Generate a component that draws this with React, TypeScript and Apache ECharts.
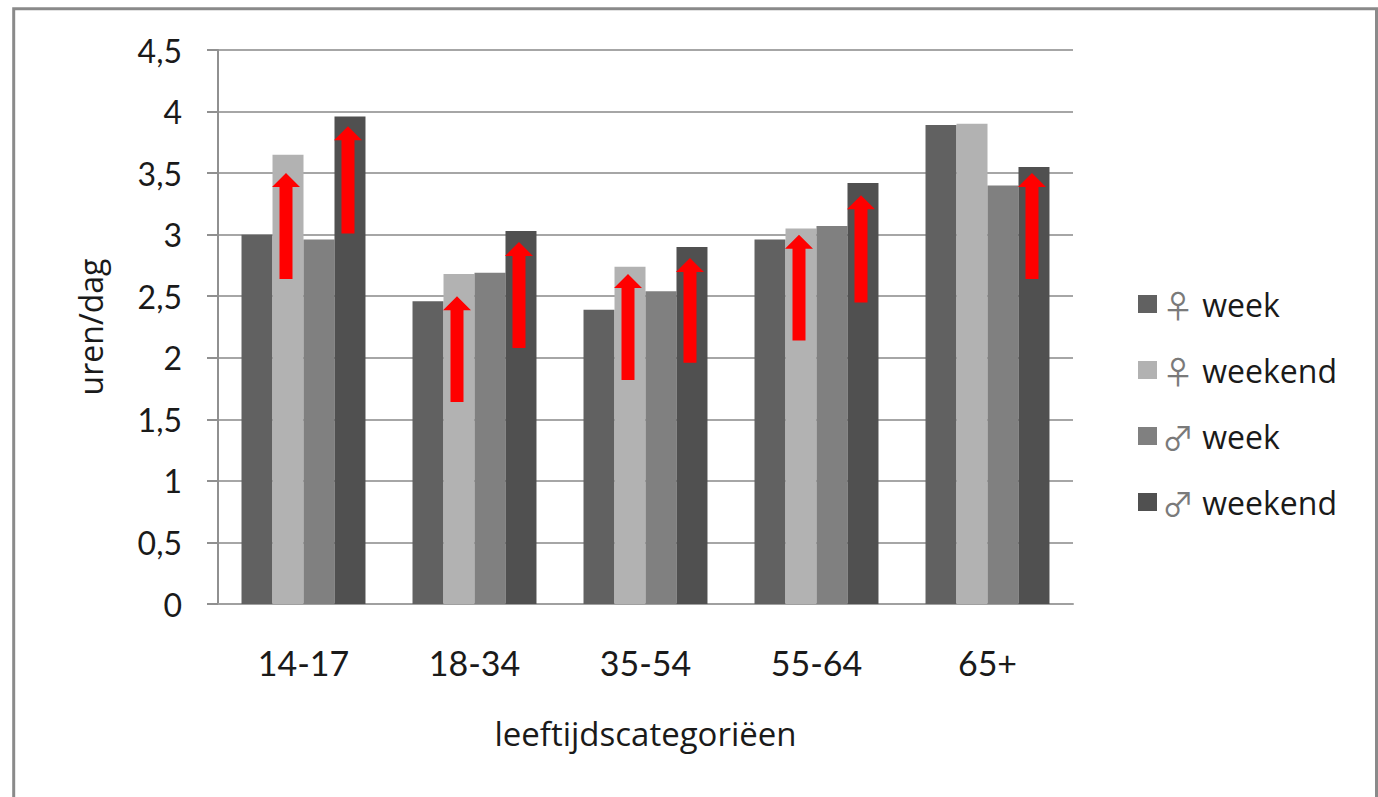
import React, { useEffect, useRef } from "react";
import * as echarts from "echarts";

// Age groups on the x axis
const categories = ["14-17", "18-34", "35-54", "55-64", "65+"];

// Hours per day, per group
const seriesNames = ["♀ week", "♀ weekend", "♂ week", "♂ weekend"];
const femaleWeek = [3.0, 2.46, 2.39, 2.96, 3.89];
const femaleWeekend = [3.65, 2.68, 2.74, 3.05, 3.9];
const maleWeek = [2.96, 2.69, 2.54, 3.07, 3.4];
const maleWeekend = [3.96, 3.03, 2.9, 3.42, 3.55];
const seriesColors = ["#616161", "#b2b2b2", "#808080", "#505050"];

// Red arrows: [category index, bar index within group, from value, to value]
const arrows = [
  [0, 1, 2.64, 3.5],
  [0, 3, 3.01, 3.88],
  [1, 1, 1.64, 2.5],
  [1, 3, 2.08, 2.94],
  [2, 1, 1.82, 2.68],
  [2, 3, 1.96, 2.81],
  [3, 1, 2.14, 3.0],
  [3, 3, 2.45, 3.32],
  [4, 3, 2.64, 3.5],
];

const FONT = "Lato, sans-serif";
const WIDE_FONT = "'Open Sans', Lato, sans-serif";
const CATEGORY_GAP = 0.275;

export default function App() {
  const ref = useRef<HTMLDivElement>(null);

  useEffect(() => {
    if (!ref.current) return;
    const chart = echarts.init(ref.current, undefined, { renderer: "svg" });
    const values = [femaleWeek, femaleWeekend, maleWeek, maleWeekend];

    const barSeries = values.map((data, i) => ({
      name: seriesNames[i],
      type: "bar",
      data,
      barGap: "0%",
      barCategoryGap: CATEGORY_GAP * 100 + "%",
      itemStyle: { color: seriesColors[i] },
      z: 2,
    }));

    const arrowSeries = {
      type: "custom",
      coordinateSystem: "cartesian2d",
      silent: true,
      z: 5,
      data: arrows,
      encode: { x: 0, y: 3 },
      renderItem: (params: any, api: any) => {
        const cat = api.value(0);
        const idx = api.value(1);
        const from = api.coord([cat, api.value(2)]);
        const to = api.coord([cat, api.value(3)]);
        const band = api.size([1, 0])[0];
        const total = band * (1 - CATEGORY_GAP);
        const barW = total / 4;
        const cx = from[0] - total / 2 + (idx + 0.5) * barW - 2;
        const yb = from[1];
        const yt = to[1];
        const shaft = 6.5;
        const head = 14;
        const headH = 14;
        return {
          type: "polygon",
          shape: {
            points: [
              [cx - shaft, yb],
              [cx - shaft, yt + headH],
              [cx - head, yt + headH],
              [cx, yt],
              [cx + head, yt + headH],
              [cx + shaft, yt + headH],
              [cx + shaft, yb],
            ],
          },
          style: { fill: "#ff0000" },
        };
      },
    };

    chart.setOption({
      animation: false,
      backgroundColor: "#ffffff",
      textStyle: { fontFamily: FONT },
      grid: { left: 218, right: 305, top: 50, bottom: 193, containLabel: false },
      graphic: [
        {
          type: "rect",
          shape: { x: 13.7, y: 8.7, width: 1362.8, height: 900 },
          style: { fill: "none", stroke: "#8a8a8a", lineWidth: 3 },
          z: 100,
        },
      ],
      legend: {
        data: seriesNames,
        orient: "vertical",
        left: 1133,
        top: 279,
        itemWidth: 19,
        itemHeight: 18,
        itemGap: 26,
        icon: "rect",
        formatter: (name: string) => {
          const sp = name.indexOf(" ");
          return `{s|${name.slice(0, sp)}}{t|${name.slice(sp)}}`;
        },
        textStyle: {
          fontFamily: WIDE_FONT,
          fontSize: 32,
          color: "#1a1a1a",
          lineHeight: 40,
          rich: {
            s: {
              fontFamily: "'Noto Sans CJK JP'",
              fontSize: 32,
              color: "#7a7a7a",
              lineHeight: 40,
            },
            t: {
              fontFamily: WIDE_FONT,
              fontSize: 32,
              color: "#1a1a1a",
              lineHeight: 40,
            },
          },
        },
      },
      xAxis: {
        type: "category",
        data: categories,
        name: "leeftijdscategoriëen",
        nameLocation: "middle",
        nameGap: 113,
        nameTextStyle: { fontFamily: WIDE_FONT, fontSize: 33, color: "#1a1a1a" },
        axisLine: { show: true, lineStyle: { color: "#a0a0a0", width: 2 } },
        axisTick: { show: false },
        axisLabel: { fontFamily: FONT, fontSize: 34, color: "#1a1a1a", margin: 41 },
      },
      yAxis: {
        type: "value",
        min: 0,
        max: 4.5,
        interval: 0.5,
        name: "uren/dag",
        nameLocation: "middle",
        nameGap: 112,
        nameTextStyle: { fontFamily: WIDE_FONT, fontSize: 32, color: "#1a1a1a" },
        axisLine: { show: true, lineStyle: { color: "#909090", width: 2 } },
        axisTick: { show: true, length: 11, lineStyle: { color: "#909090", width: 2 } },
        splitLine: { show: true, lineStyle: { color: "#a6a6a6", width: 2 } },
        axisLabel: {
          fontFamily: FONT,
          fontSize: 32,
          color: "#1a1a1a",
          margin: 36,
          formatter: (v: number) => String(v).replace(".", ","),
        },
      },
      series: [...barSeries, arrowSeries],
    });

    return () => chart.dispose();
  }, []);

  return (
    <div
      ref={ref}
      style={{ position: "fixed", left: 0, top: 0, width: 1378, height: 797 }}
    />
  );
}
